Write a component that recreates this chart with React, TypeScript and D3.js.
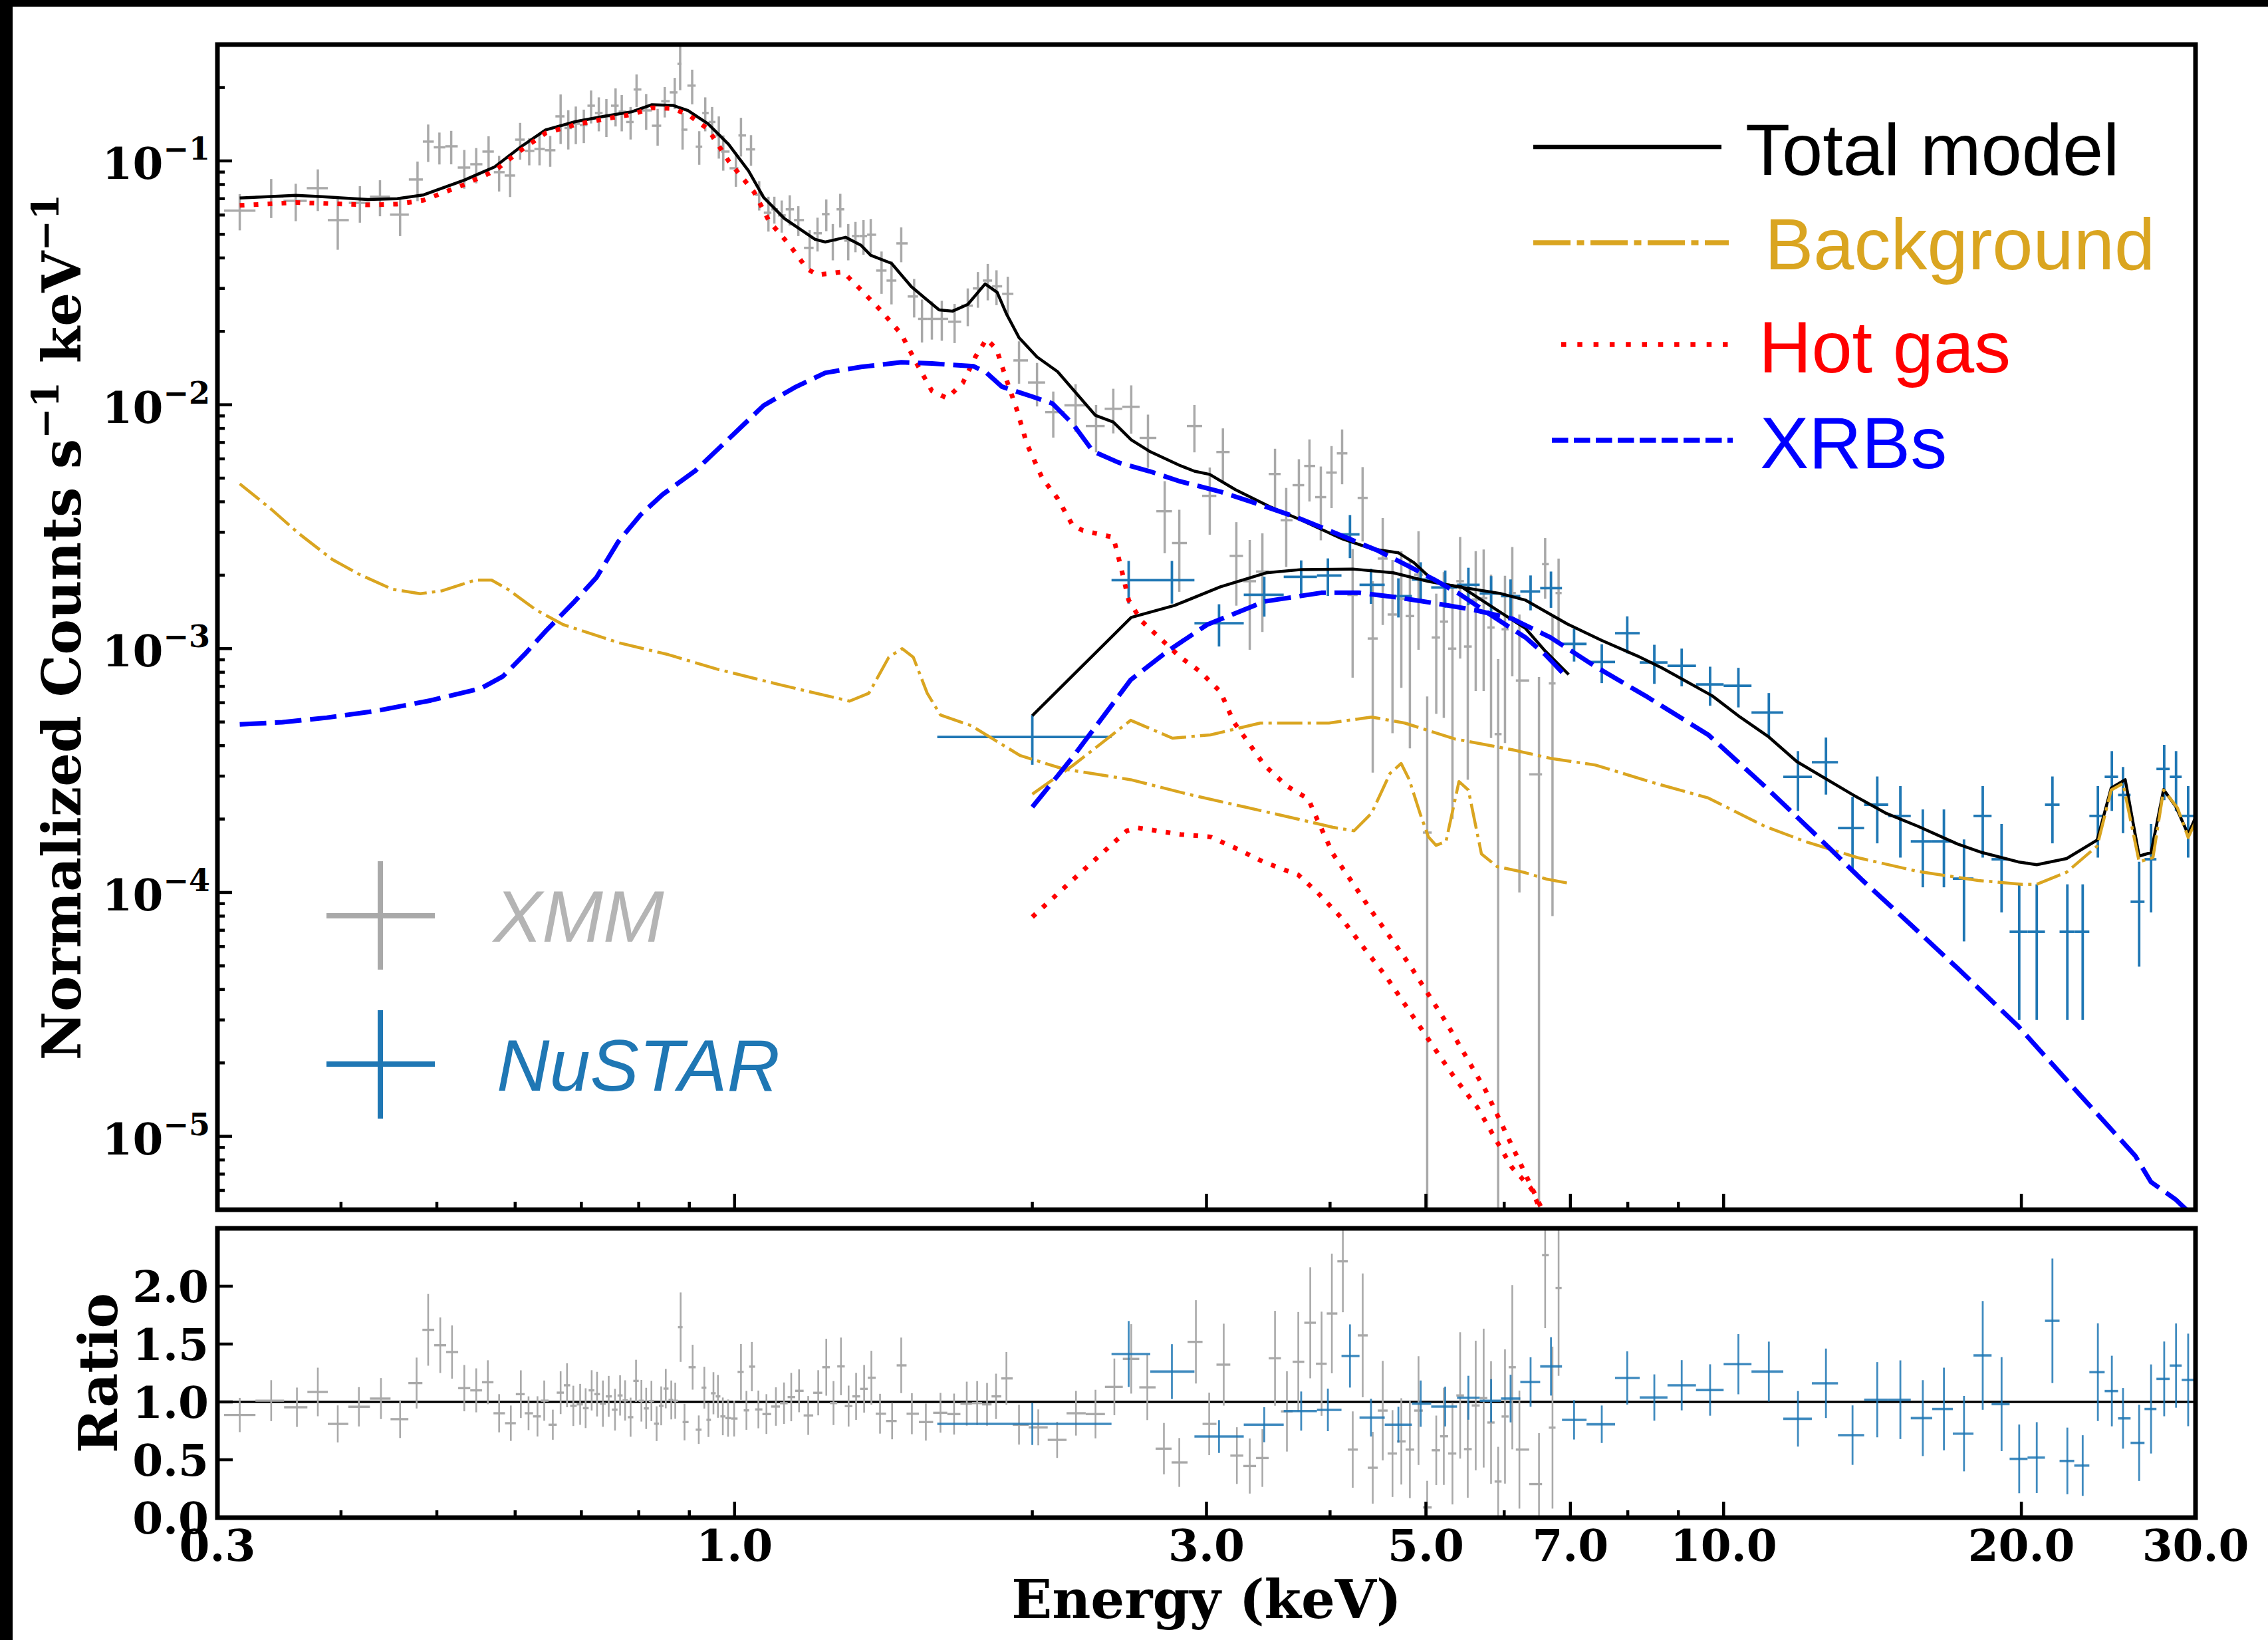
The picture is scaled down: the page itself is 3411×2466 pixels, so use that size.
import React from 'react';
import * as d3 from 'd3';

// ---------------- Model curves (energy keV, normalized counts s^-1 keV^-1) ----------------
const totXmmE = [0.316,0.360,0.383,0.426,0.456,0.485,0.533,0.572,0.607,0.644,0.691,0.742,0.787,0.825,0.866,0.897,0.940,0.986,1.033,1.070,1.123,1.206,1.235,1.295,1.342,1.373,1.441,1.509,1.564,1.610,1.661,1.721,1.792,1.843,1.883,1.939,2.022,2.121,2.222,2.317,2.415,2.518,2.626,2.816,2.917,3.023,3.211,3.486,3.744,4.114,4.416,4.692,4.863,5.031,5.214,5.434,5.667,5.946,6.306,6.603,6.972];
const totXmmV = [0.0704,0.0722,0.0713,0.0695,0.0700,0.0726,0.0834,0.0945,0.1137,0.134,0.145,0.153,0.159,0.170,0.169,0.161,0.142,0.117,0.091,0.0708,0.058,0.0477,0.0465,0.0486,0.0451,0.041,0.038,0.0305,0.0270,0.0245,0.0242,0.0258,0.0313,0.0289,0.0236,0.01885,0.0157,0.01368,0.01099,0.00904,0.00849,0.00718,0.00645,0.00565,0.00534,0.00518,0.00448,0.0038,0.00336,0.00282,0.00256,0.00247,0.00225,0.00198,0.00183,0.00179,0.0016,0.00141,0.00121,0.000976,0.000783];

const hotXmmE = [0.316,0.360,0.383,0.426,0.456,0.485,0.533,0.572,0.607,0.644,0.691,0.742,0.787,0.825,0.866,0.897,0.940,0.986,1.046,1.084,1.137,1.184,1.213,1.287,1.342,1.405,1.474,1.528,1.583,1.640,1.701,1.753,1.798,1.840,1.883,1.930,1.975,2.047,2.121,2.198,2.250,2.415,2.457,2.503,2.578,2.688,2.816,2.954,3.099,3.198,3.313,3.432,3.618,3.802,3.885,4.027,4.405,4.81,5.253,5.747,6.277,6.555,6.7];
const hotXmmV = [0.0657,0.0675,0.067,0.066,0.0665,0.069,0.080,0.091,0.110,0.130,0.141,0.149,0.155,0.165,0.164,0.155,0.135,0.100,0.0747,0.0565,0.0451,0.0361,0.0341,0.0351,0.0296,0.0244,0.0195,0.01476,0.0114,0.01064,0.01227,0.0158,0.0186,0.0169,0.01269,0.0095,0.0069,0.0050,0.00413,0.00319,0.00305,0.00286,0.00218,0.00158,0.0013,0.00111,0.00093,0.000807,0.000665,0.000499,0.000408,0.000333,0.000273,0.000242,0.000198,0.000144,8.4e-5,5.08e-5,2.89e-5,1.54e-5,7.26e-6,5.0e-6,4.0e-6];

const xrbXmmE = [0.316,0.349,0.387,0.434,0.493,0.554,0.583,0.613,0.645,0.689,0.725,0.763,0.803,0.846,0.913,0.974,1.070,1.150,1.235,1.342,1.474,1.583,1.745,1.798,1.863,2.001,2.096,2.198,2.303,2.446,2.626,2.816,3.099,3.406,3.697,4.114,4.473,4.80,5.095,5.40,5.87,6.306,6.603,6.95];
const xrbXmmV = [4.89e-4,4.99e-4,5.21e-4,5.55e-4,6.13e-4,6.87e-4,7.69e-4,9.45e-4,1.186e-3,1.56e-3,1.957e-3,2.75e-3,3.53e-3,4.29e-3,5.37e-3,6.9e-3,9.93e-3,0.01177,0.01352,0.01429,0.01494,0.01476,0.01438,0.01352,0.01186,0.01079,0.01012,0.00834,0.00645,0.00579,0.00534,0.00486,0.0044,0.00388,0.00346,0.0029,0.00252,0.00218,0.00192,0.00168,0.00134,0.00111,0.000945,0.000759];

const bgXmmE = [0.316,0.340,0.362,0.392,0.417,0.451,0.481,0.506,0.547,0.568,0.590,0.630,0.671,0.763,0.857,0.960,1.108,1.307,1.367,1.432,1.477,1.516,1.566,1.615,1.735,1.825,1.945,2.151,2.515,2.873,3.282,3.75,4.027,4.23,4.405,4.60,4.72,4.81,4.94,5.03,5.12,5.24,5.40,5.52,5.69,5.90,6.28,6.63,6.98];
const bgXmmV = [4.74e-3,3.73e-3,2.98e-3,2.32e-3,2.02e-3,1.75e-3,1.68e-3,1.726e-3,1.91e-3,1.91e-3,1.75e-3,1.44e-3,1.254e-3,1.058e-3,9.45e-4,8.24e-4,7.13e-4,6.09e-4,6.56e-4,9.22e-4,1.0e-3,9.22e-4,6.56e-4,5.34e-4,4.83e-4,4.26e-4,3.64e-4,3.21e-4,2.90e-4,2.53e-4,2.24e-4,1.98e-4,1.85e-4,1.79e-4,2.11e-4,3.08e-4,3.38e-4,2.90e-4,2.07e-4,1.69e-4,1.56e-4,1.62e-4,2.85e-4,2.63e-4,1.44e-4,1.277e-4,1.21e-4,1.133e-4,1.09e-4];

const totNuE = [2.0,2.518,2.785,3.099,3.448,3.744,4.216,4.633,5.031,5.40,5.946,6.306,6.95,7.53,8.18,8.66,9.74,10.39,11.11,11.86,13.52,14.57,15.71,17.24,18.26,19.85,20.73,22.22,23.86,24.65,25.47,26.31,27.05,27.85,28.64,29.49,30.0];
const totNuV = [5.31e-4,1.343e-3,1.503e-3,1.792e-3,2.046e-3,2.11e-3,2.12e-3,2.046e-3,1.885e-3,1.79e-3,1.683e-3,1.58e-3,1.262e-3,1.08e-3,9.33e-4,8.34e-4,6.4e-4,5.24e-4,4.34e-4,3.44e-4,2.51e-4,2.12e-4,1.87e-4,1.58e-4,1.457e-4,1.335e-4,1.30e-4,1.377e-4,1.64e-4,2.68e-4,2.90e-4,1.41e-4,1.457e-4,2.64e-4,2.26e-4,1.73e-4,2.03e-4];

const xrbNuE = [2.0,2.201,2.515,2.746,3.005,3.432,3.92,4.28,4.69,5.12,5.60,6.11,6.68,7.42,8.38,9.65,11.0,12.53,13.78,15.42,17.24,19.85,22.85,26.06,27.05,28.64,30.0];
const xrbNuV = [2.24e-4,3.62e-4,7.45e-4,9.82e-4,1.254e-3,1.56e-3,1.694e-3,1.694e-3,1.62e-3,1.532e-3,1.44e-3,1.327e-3,1.112e-3,8.44e-4,6.32e-4,4.43e-4,2.73e-4,1.65e-4,1.133e-4,7.45e-5,4.89e-5,2.83e-5,1.5e-5,8.34e-6,6.49e-6,5.51e-6,4.6e-6];

const hotNuE = [2.0,2.201,2.492,2.558,2.824,3.028,3.198,3.432,3.715,3.885,4.10,4.32,4.56,4.81,5.07,5.35,5.64,5.90,6.11,6.39,6.6];
const hotNuV = [7.93e-5,1.133e-4,1.79e-4,1.84e-4,1.73e-4,1.69e-4,1.53e-4,1.33e-4,1.18e-4,1.0e-4,7.93e-5,5.98e-5,4.51e-5,3.27e-5,2.38e-5,1.73e-5,1.31e-5,9.5e-6,7.45e-6,6.1e-6,4.5e-6];

const bgNuE = [2.0,2.201,2.515,2.772,3.028,3.40,3.99,4.405,4.76,5.35,6.11,6.68,7.42,8.54,9.65,11.0,12.08,13.65,15.71,18.09,20.03,20.73,22.22,23.86,24.65,25.34,26.31,27.17,27.85,28.77,29.49,30.0];
const bgNuV = [2.53e-4,3.33e-4,5.08e-4,4.29e-4,4.43e-4,4.95e-4,4.95e-4,5.24e-4,4.95e-4,4.26e-4,3.85e-4,3.55e-4,3.33e-4,2.80e-4,2.44e-4,1.87e-4,1.62e-4,1.39e-4,1.22e-4,1.12e-4,1.08e-4,1.08e-4,1.21e-4,1.55e-4,2.63e-4,2.80e-4,1.335e-4,1.39e-4,2.63e-4,2.22e-4,1.68e-4,1.95e-4];

// ---------------- XMM spectrum ----------------
const xmmE = [
  0.316,0.340,0.360,0.379,0.397,0.418,0.438,0.459,0.478,0.490,
  0.503,0.517,0.533,0.548,0.564,0.578,0.593,0.607,0.620,0.635,
  0.651,0.667,0.679,0.691,0.704,0.716,0.729,0.742,0.758,0.769,
  0.785,0.796,0.814,0.836,0.850,0.870,0.881,0.886,0.906,0.921,0.934,
  0.949,0.964,0.974,1.003,1.015,1.039,1.059,1.082,1.097,1.116,
  1.137,1.160,1.191,1.213,1.238,1.257,1.279,1.303,1.325,1.350,
  1.373,1.408,1.441,1.474,1.519,1.547,1.583,1.620,1.669,1.721,
  1.762,1.803,1.840,1.889,1.939,2.022,2.10,2.212,2.32,2.415,
  2.518,2.618,2.722,2.816,2.917,3.023,3.117,3.216,3.318,3.417,
  3.519,3.612,3.72,3.813,3.915,4.014,4.114,4.216,4.315,
  4.418,4.522,4.626,4.722,4.817,4.915,5.015,5.122,5.213,5.319,5.415,5.512,5.615,5.72,5.819,5.916,6.011,6.114,6.216,6.506,6.60,6.714,6.81];
const xmmRate = [
  0.0625,0.0713,0.0686,0.0773,0.0572,0.0673,0.0713,0.0602,0.0839,0.120,
  0.1137,0.1148,0.0939,0.0969,0.1092,0.0899,0.0871,0.1222,0.1099,0.1119,
  0.1106,0.1523,0.1364,0.1421,0.1403,0.1684,0.1572,0.1523,0.1684,0.1592,
  0.1444,0.1963,0.1611,0.1394,0.1757,0.191,0.25,0.1343,0.2036,0.1144,0.1572,
  0.1444,0.1272,0.1092,0.0933,0.1272,0.1115,0.0726,0.0613,0.0633,0.0598,
  0.0633,0.0572,0.0440,0.0505,0.0605,0.0471,0.0633,0.0471,0.0492,0.0492,
  0.0498,0.0355,0.0323,0.0459,0.0278,0.0225,0.0225,0.0225,0.0219,0.0255,
  0.0300,0.0323,0.0306,0.0285,0.0152,0.01234,0.00933,0.00994,0.00818,0.00963,
  0.00981,0.00731,0.00366,0.00271,0.00818,0.00423,0.0064,0.0024,0.00189,0.00207,
  0.0052,0.00336,0.00468,0.00561,0.00418,0.00527,0.00632,0.00166,0.00415,
  0.00110,0.00234,0.00138,0.0016,0.00136,0.00201,0.000176,0.00111,0.00129,0.001,0.00189,0.00102,0.00159,0.00161,0.00122,0.000446,0.0012,0.00169,0.00074,0.000305,0.00222,0.00072,0.00169];
const xmmErr = [
  0.0106,0.013,0.012,0.015,0.014,0.0115,0.012,0.011,0.0155,0.021,
  0.017,0.018,0.017,0.016,0.017,0.015,0.016,0.021,0.014,0.016,
  0.016,0.035,0.025,0.025,0.022,0.026,0.025,0.027,0.03,0.027,
  0.022,0.03,0.027,0.024,0.025,0.028,0.055,0.023,0.033,0.018,0.025,
  0.022,0.025,0.018,0.015,0.023,0.016,0.010,0.010,0.008,0.009,
  0.009,0.008,0.008,0.008,0.009,0.008,0.010,0.008,0.007,0.008,
  0.008,0.007,0.0065,0.0075,0.005,0.0045,0.004,0.0042,0.004,0.0045,
  0.005,0.0055,0.005,0.005,0.003,0.0025,0.002,0.0022,0.0018,0.002,
  0.0022,0.0018,0.0012,0.001,0.0018,0.0013,0.0016,0.0009,0.0009,0.0009,
  0.0014,0.0012,0.0013,0.0016,0.0014,0.0015,0.0016,0.0009,0.0014,
  0.00079,0.00109,0.00093,0.00091,0.00097,0.00102,0.00046,0.00057,0.00077,0.0008,0.00098,0.00073,0.00092,0.00094,0.00079,0.00046,0.00079,0.00092,0.00064,0.00046,0.00062,0.00064,0.00065];

// XMM ratio (data / model)
const xmmRatioE = [
  0.316,0.340,0.361,0.379,0.397,0.417,0.439,0.459,0.477,0.490,
  0.504,0.518,0.533,0.548,0.563,0.578,0.594,0.608,0.619,0.632,
  0.642,0.655,0.667,0.677,0.687,0.698,0.707,0.717,0.726,0.736,
  0.746,0.757,0.766,0.775,0.785,0.795,0.805,0.814,0.824,0.834,
  0.843,0.852,0.863,0.871,0.882,0.890,0.907,0.920,0.932,0.941,
  0.952,0.962,0.973,0.985,0.999,1.015,1.028,1.041,1.057,1.077,
  1.101,1.122,1.141,1.162,1.187,1.215,1.238,1.259,1.281,1.304,
  1.327,1.352,1.375,1.403,1.443,1.474,1.511,1.561,1.615,1.667,
  1.717,1.759,1.800,1.838,1.883,1.939,2.028,2.119,2.214,2.317,
  2.421,2.518,2.614,2.717,2.816,2.927,
  3.019,3.123,3.220,3.318,3.417,3.519,3.618,3.715,3.82,3.922,
  4.017,4.121,4.217,4.316,4.418,4.522,4.626,4.722,4.817,4.915,
  5.015,5.122,5.213,5.319,5.415,5.512,5.615,5.72,5.819,5.916,
  6.011,6.114,6.216,6.506,6.60,6.714,6.81];
const xmmRatio = [
  0.887,1.011,0.954,1.086,0.81,0.958,1.029,0.851,1.163,1.623,
  1.49,1.431,1.119,1.1,1.17,0.902,0.816,1.067,0.902,0.875,
  1.011,0.803,1.08,1.144,0.966,0.979,0.946,1.1,1.067,0.985,
  1.048,0.933,1.056,1.013,0.868,1.182,1.01,0.944,1.008,0.812,
  0.966,1.115,1.017,1.01,1.646,0.826,1.3,0.76,1.123,0.845,
  1.075,1.048,0.875,0.86,0.856,1.259,0.927,1.305,0.935,0.895,
  0.96,0.989,1.042,1.096,0.883,1.079,1.3,0.99,1.307,0.964,
  1.048,1.113,1.209,0.898,0.835,1.316,0.898,0.826,0.906,0.895,
  0.985,0.99,0.979,1.048,1.203,0.803,0.78,0.672,0.902,0.895,
  1.13,1.372,1.126,0.596,0.477,1.519,
  0.81,1.322,0.536,0.446,0.515,1.377,0.918,1.347,1.684,1.33,
  1.764,2.215,0.588,1.575,0.431,0.925,0.554,0.659,0.588,0.925,
  0.088,0.582,0.703,0.554,1.056,0.592,0.969,1.033,0.822,0.312,
  0.874,1.3,0.588,0.29,2.268,0.778,1.985];
const xmmRatioErr = [
  0.148,0.177,0.17,0.21,0.16,0.17,0.177,0.163,0.22,0.31,
  0.24,0.23,0.2,0.19,0.19,0.165,0.153,0.206,0.146,0.174,
  0.174,0.13,0.185,0.19,0.174,0.177,0.172,0.174,0.193,0.2,
  0.177,0.18,0.174,0.174,0.169,0.182,0.18,0.178,0.174,0.15,
  0.168,0.17,0.168,0.156,0.30,0.158,0.194,0.123,0.181,0.148,
  0.182,0.185,0.163,0.161,0.155,0.241,0.168,0.213,0.163,0.172,
  0.166,0.179,0.209,0.185,0.168,0.195,0.246,0.19,0.249,0.177,
  0.203,0.206,0.233,0.172,0.158,0.24,0.177,0.16,0.172,0.177,
  0.19,0.19,0.185,0.196,0.228,0.172,0.155,0.156,0.193,0.21,
  0.245,0.30,0.283,0.222,0.211,0.36,
  0.27,0.354,0.245,0.238,0.249,0.41,0.347,0.43,0.48,0.45,
  0.517,0.44,0.33,0.535,0.31,0.43,0.375,0.373,0.42,0.47,
  0.23,0.3,0.42,0.44,0.546,0.42,0.56,0.6,0.53,0.3,
  0.58,0.71,0.51,0.44,0.63,0.7,0.76];

// ---------------- NuSTAR spectrum ----------------
const nuEdges = [1.603,2.405,2.632,2.917,3.272,3.591,3.88,4.108,4.284,4.543,4.84,5.062,5.376,5.667,5.955,6.229,6.524,6.864,7.268,7.767,8.225,8.775,9.377,10.0,10.67,11.49,12.28,13.05,13.87,14.67,15.46,16.25,17.05,17.89,18.66,19.46,20.29,21.13,21.86,22.62,23.43,24.28,25.05,25.79,26.64,27.39,28.25,29.05,30.0];
const nuE = [2.0,2.503,2.768,3.089,3.432,3.74,3.98,4.19,4.40,4.69,4.94,5.23,5.52,5.82,6.09,6.38,6.69,7.06,7.53,7.99,8.51,9.07,9.69,10.35,11.11,11.89,12.69,13.5,14.3,15.09,15.9,16.7,17.5,18.28,19.1,19.9,20.73,21.5,22.26,23.07,23.9,24.69,25.34,26.31,27.05,27.89,28.67,29.49];
const nuRate = [4.34e-4,1.909e-3,1.909e-3,1.27e-3,1.662e-3,1.97e-3,1.994e-3,2.94e-3,1.826e-3,1.642e-3,1.92e-3,1.781e-3,1.826e-3,1.683e-3,1.642e-3,1.715e-3,1.77e-3,1.045e-3,8.82e-4,1.156e-3,8.77e-4,8.5e-4,7.13e-4,7.04e-4,5.47e-4,2.98e-4,3.42e-4,1.837e-4,2.29e-4,2.06e-4,1.62e-4,1.62e-4,1.14e-4,2.06e-4,1.368e-4,6.9e-5,6.9e-5,2.29e-4,6.9e-5,6.9e-5,2.06e-4,2.98e-4,2.51e-4,9.16e-5,1.368e-4,3.21e-4,2.98e-4,2.06e-4];
const nuRateErr = [1.0e-4,3.8e-4,3.8e-4,2.5e-4,3.1e-4,3.3e-4,3.5e-4,5.9e-4,3.0e-4,3.0e-4,3.4e-4,3.1e-4,3.2e-4,3.0e-4,2.8e-4,2.8e-4,3.0e-4,1.6e-4,1.6e-4,2.0e-4,1.6e-4,1.5e-4,1.3e-4,1.3e-4,1.1e-4,8.2e-5,9e-5,6.3e-5,7e-5,6.7e-5,5.7e-5,5.7e-5,5.1e-5,6.7e-5,5.4e-5,3.9e-5,3.9e-5,7e-5,3.9e-5,3.9e-5,6.7e-5,8.2e-5,7.6e-5,4.2e-5,5.4e-5,8.2e-5,8.2e-5,6.7e-5];
const nuRatio = [0.81,1.414,1.262,0.701,0.803,0.921,0.931,1.397,0.864,0.803,0.985,0.96,1.036,1.01,1.029,1.172,1.307,0.845,0.807,1.207,1.038,1.144,1.103,1.326,1.262,0.854,1.161,0.713,1.019,1.019,0.86,0.939,0.726,1.402,0.981,0.508,0.519,1.701,0.49,0.45,1.257,1.094,0.858,0.646,0.939,1.199,1.314,1.19];
const nuRatioErr = [0.182,0.285,0.237,0.142,0.151,0.169,0.184,0.273,0.163,0.155,0.2,0.172,0.19,0.187,0.206,0.214,0.252,0.17,0.162,0.23,0.2,0.217,0.222,0.26,0.259,0.24,0.3,0.257,0.325,0.34,0.328,0.357,0.326,0.47,0.406,0.297,0.306,0.538,0.288,0.262,0.422,0.305,0.262,0.329,0.385,0.323,0.364,0.4];

// ---------------- Axes ----------------
const xMajor = [0.3, 1, 3, 5, 7, 10, 20, 30];
const xMajorLabels = ['0.3', '1.0', '3.0', '5.0', '7.0', '10.0', '20.0', '30.0'];
const xMinor = [0.4, 0.5, 0.6, 0.7, 0.8, 0.9, 2, 4, 6, 8, 9];
const yMajorExp = [-1, -2, -3, -4, -5];
const ratioTicks = [0.0, 0.5, 1.0, 1.5, 2.0];
const ratioTickLabels = ['0.0', '0.5', '1.0', '1.5', '2.0'];

const legendModels = ['Total model', 'Background', 'Hot gas', 'XRBs'];
const legendData = ['XMM', 'NuSTAR'];

const C_XMM = '#a9a9a9';
const C_NU = '#1f77b4';
const C_BG = '#daa520';
const C_HOT = '#ff0000';
const C_XRB = '#0000ff';

const SERIF = "'DejaVu Serif', serif";
const SANS = "'Liberation Sans', Arial, Helvetica, sans-serif";

const X0 = 327, X1 = 3302;
const MY0 = 67, MY1 = 1819;
const RY0 = 1847, RY1 = 2282;

function binEdges(E: number[]) {
  const lo: number[] = [];
  const hi: number[] = [];
  for (let i = 0; i < E.length; i++) {
    const l = i > 0 ? Math.sqrt(E[i - 1] * E[i]) : (E[0] * E[0]) / Math.sqrt(E[0] * E[1]);
    const h = i < E.length - 1 ? Math.sqrt(E[i] * E[i + 1]) : (E[i] * E[i]) / Math.sqrt(E[i - 1] * E[i]);
    lo.push(l);
    hi.push(h);
  }
  return { lo, hi };
}

export default function App() {
  const x = d3.scaleLog().domain([0.3, 30]).range([X0, X1]);
  const y = d3.scaleLog().domain([5e-6, 0.3]).range([MY1, MY0]);
  const yr = d3.scaleLinear().domain([0, 2.5]).range([RY1, RY0]);

  const path = (E: number[], V: number[]) =>
    d3.line<number>().x((_, i) => x(E[i])).y((_, i) => y(V[i]))(E) || '';

  const yLow = (v: number, s: number) => (v - s > 0 ? y(v - s) : MY1 + 40);
  const rLow = (v: number, s: number) => (v - s > 0 ? yr(v - s) : RY1 + 40);

  const xmmBins = binEdges(xmmE);
  const xmmRBins = binEdges(xmmRatioE);

  const minorY: number[] = [];
  for (let n = -6; n <= -1; n++) {
    for (let k = 2; k <= 9; k++) {
      const v = k * Math.pow(10, n);
      if (v >= 5e-6 && v <= 0.3) minorY.push(v);
    }
  }

  return (
    <svg width={3411} height={2466} style={{ position: 'absolute', left: 0, top: 0, background: '#fff' }}>
      <defs>
        <clipPath id="clipMain"><rect x={X0} y={MY0} width={X1 - X0} height={MY1 - MY0} /></clipPath>
        <clipPath id="clipRatio"><rect x={X0} y={RY0} width={X1 - X0} height={RY1 - RY0} /></clipPath>
      </defs>
      <rect x={0} y={0} width={3411} height={2466} fill="#fff" />
      <rect x={0} y={0} width={3411} height={10} fill="#000" />
      <rect x={0} y={0} width={19} height={2466} fill="#000" />

      {/* ---------------- Main panel ---------------- */}
      <g clipPath="url(#clipMain)">
        <g stroke={C_XMM} strokeWidth={3.5}>
          {xmmE.map((e, i) => (
            <g key={'xm' + i}>
              <line x1={x(e)} x2={x(e)} y1={y(xmmRate[i] + xmmErr[i])} y2={yLow(xmmRate[i], xmmErr[i])} />
              <line x1={x(xmmBins.lo[i])} x2={x(xmmBins.hi[i])} y1={y(xmmRate[i])} y2={y(xmmRate[i])} />
            </g>
          ))}
        </g>
        <g stroke={C_NU} strokeWidth={3.8}>
          {nuE.map((e, i) => (
            <g key={'nm' + i}>
              <line x1={x(e)} x2={x(e)} y1={y(nuRate[i] + nuRateErr[i])} y2={yLow(nuRate[i], nuRateErr[i])} />
              <line x1={x(nuEdges[i])} x2={x(nuEdges[i + 1])} y1={y(nuRate[i])} y2={y(nuRate[i])} />
            </g>
          ))}
        </g>
        <g fill="none" strokeLinejoin="round">
          <path d={path(totXmmE, totXmmV)} stroke="#000" strokeWidth={4.5} />
          <path d={path(totNuE, totNuV)} stroke="#000" strokeWidth={4.5} />
          <path d={path(bgXmmE, bgXmmV)} stroke={C_BG} strokeWidth={4.5} strokeDasharray="38 8 5 8" />
          <path d={path(bgNuE, bgNuV)} stroke={C_BG} strokeWidth={4.5} strokeDasharray="38 8 5 8" />
          <path d={path(hotXmmE, hotXmmV)} stroke={C_HOT} strokeWidth={7} strokeDasharray="7 14" />
          <path d={path(hotNuE, hotNuV)} stroke={C_HOT} strokeWidth={7} strokeDasharray="7 14" />
          <path d={path(xrbXmmE, xrbXmmV)} stroke={C_XRB} strokeWidth={7} strokeDasharray="40 13" />
          <path d={path(xrbNuE, xrbNuV)} stroke={C_XRB} strokeWidth={7} strokeDasharray="40 13" />
        </g>
      </g>

      {/* main frame */}
      <rect x={X0} y={MY0} width={X1 - X0} height={MY1 - MY0} fill="none" stroke="#000" strokeWidth={7} />

      {/* main ticks */}
      <g stroke="#000" strokeWidth={4.5}>
        {yMajorExp.map((n) => (
          <line key={'ymj' + n} x1={X0} x2={X0 + 22} y1={y(Math.pow(10, n))} y2={y(Math.pow(10, n))} />
        ))}
        {minorY.map((v, i) => (
          <line key={'ymn' + i} x1={X0} x2={X0 + 11} y1={y(v)} y2={y(v)} />
        ))}
        {xMajor.map((v, i) => (
          <line key={'mxj' + i} x1={x(v)} x2={x(v)} y1={MY1} y2={MY1 - 24} />
        ))}
        {xMinor.map((v, i) => (
          <line key={'mxn' + i} x1={x(v)} x2={x(v)} y1={MY1} y2={MY1 - 12} />
        ))}
      </g>
      <g fontFamily={SERIF} fontWeight="bold" fill="#000">
        {yMajorExp.map((n) => (
          <text key={'yl' + n} x={316} y={y(Math.pow(10, n)) + 27} fontSize={66} textAnchor="end">
            10<tspan fontSize={46} dy={-29}>{'\u2212' + Math.abs(n)}</tspan>
          </text>
        ))}
      </g>
      <text transform={`translate(121, ${(MY0 + MY1) / 2}) rotate(-90)`} textAnchor="middle" fontFamily={SERIF} fontWeight="bold" fontSize={80} fill="#000">
        Normalized Counts s<tspan fontSize={56} dy={-33}>{'\u22121'}</tspan><tspan dy={33}> keV</tspan><tspan fontSize={56} dy={-33}>{'\u22121'}</tspan>
      </text>

      {/* legends (models) */}
      <g>
        <line x1={2306} x2={2589} y1={221} y2={221} stroke="#000" strokeWidth={6.5} />
        <line x1={2306} x2={2600} y1={365} y2={365} stroke={C_BG} strokeWidth={7.6} strokeDasharray="56 9.5 11 9.5" />
        <line x1={2348} x2={2600} y1={518} y2={518} stroke={C_HOT} strokeWidth={7.5} strokeDasharray="7.5 16.8" />
        <line x1={2334} x2={2606} y1={662} y2={662} stroke={C_XRB} strokeWidth={7.7} strokeDasharray="24.5 8.5" />
      </g>
      <g fontFamily={SANS} fontSize={110}>
        <text x={2625} y={263} fill="#000">{legendModels[0]}</text>
        <text x={2654} y={405} fill={C_BG}>{legendModels[1]}</text>
        <text x={2645} y={560} fill={C_HOT}>{legendModels[2]}</text>
        <text x={2647} y={704} fill={C_XRB}>{legendModels[3]}</text>
      </g>

      {/* legends (data) */}
      <g strokeWidth={8}>
        <line x1={491} x2={654} y1={1377} y2={1377} stroke={C_XMM} />
        <line x1={572} x2={572} y1={1295} y2={1458} stroke={C_XMM} />
        <line x1={491} x2={654} y1={1600} y2={1600} stroke={C_NU} />
        <line x1={572} x2={572} y1={1519} y2={1682} stroke={C_NU} />
      </g>
      <g fontFamily={SANS} fontSize={110} fontStyle="italic">
        <text x={742} y={1416} fill="#b4b4b4">{legendData[0]}</text>
        <text x={747} y={1640} fill={C_NU}>{legendData[1]}</text>
      </g>

      {/* ---------------- Ratio panel ---------------- */}
      <g clipPath="url(#clipRatio)">
        <line x1={X0} x2={X1} y1={yr(1)} y2={yr(1)} stroke="#000" strokeWidth={3.5} />
        <g stroke={C_XMM} strokeWidth={2.6}>
          {xmmRatioE.map((e, i) => (
            <g key={'xr' + i}>
              <line x1={x(e)} x2={x(e)} y1={yr(xmmRatio[i] + xmmRatioErr[i])} y2={rLow(xmmRatio[i], xmmRatioErr[i])} />
              <line x1={x(xmmRBins.lo[i])} x2={x(xmmRBins.hi[i])} y1={yr(xmmRatio[i])} y2={yr(xmmRatio[i])} strokeWidth={3.4} />
            </g>
          ))}
        </g>
        <g stroke={C_NU} strokeWidth={2.8} strokeOpacity={0.85}>
          {nuE.map((e, i) => (
            <g key={'nr' + i}>
              <line x1={x(e)} x2={x(e)} y1={yr(nuRatio[i] + nuRatioErr[i])} y2={rLow(nuRatio[i], nuRatioErr[i])} />
              <line x1={x(nuEdges[i])} x2={x(nuEdges[i + 1])} y1={yr(nuRatio[i])} y2={yr(nuRatio[i])} strokeWidth={3.6} />
            </g>
          ))}
        </g>
      </g>
      <rect x={X0} y={RY0} width={X1 - X0} height={RY1 - RY0} fill="none" stroke="#000" strokeWidth={7} />
      <g stroke="#000" strokeWidth={4.5}>
        {ratioTicks.map((v, i) => (
          <line key={'ryt' + i} x1={X0} x2={X0 + 23} y1={yr(v)} y2={yr(v)} />
        ))}
        {xMajor.map((v, i) => (
          <line key={'rxj' + i} x1={x(v)} x2={x(v)} y1={RY1} y2={RY1 - 24} />
        ))}
        {xMinor.map((v, i) => (
          <line key={'rxn' + i} x1={x(v)} x2={x(v)} y1={RY1} y2={RY1 - 11} />
        ))}
      </g>
      <g fontFamily={SERIF} fontWeight="bold" fontSize={66} fill="#000">
        {ratioTicks.map((v, i) => (
          <text key={'rl' + i} x={314} y={yr(v) + 24} textAnchor="end">{ratioTickLabels[i]}</text>
        ))}
        {xMajor.map((v, i) => (
          <text key={'xl' + i} x={x(v)} y={2347} textAnchor="middle">{xMajorLabels[i]}</text>
        ))}
      </g>
      <text transform={`translate(176, ${(RY0 + RY1) / 2}) rotate(-90)`} textAnchor="middle" fontFamily={SERIF} fontWeight="bold" fontSize={80} fill="#000">Ratio</text>
      <text x={(X0 + X1) / 2} y={2433} textAnchor="middle" fontFamily={SERIF} fontWeight="bold" fontSize={80} fill="#000">Energy (keV)</text>
    </svg>
  );
}
